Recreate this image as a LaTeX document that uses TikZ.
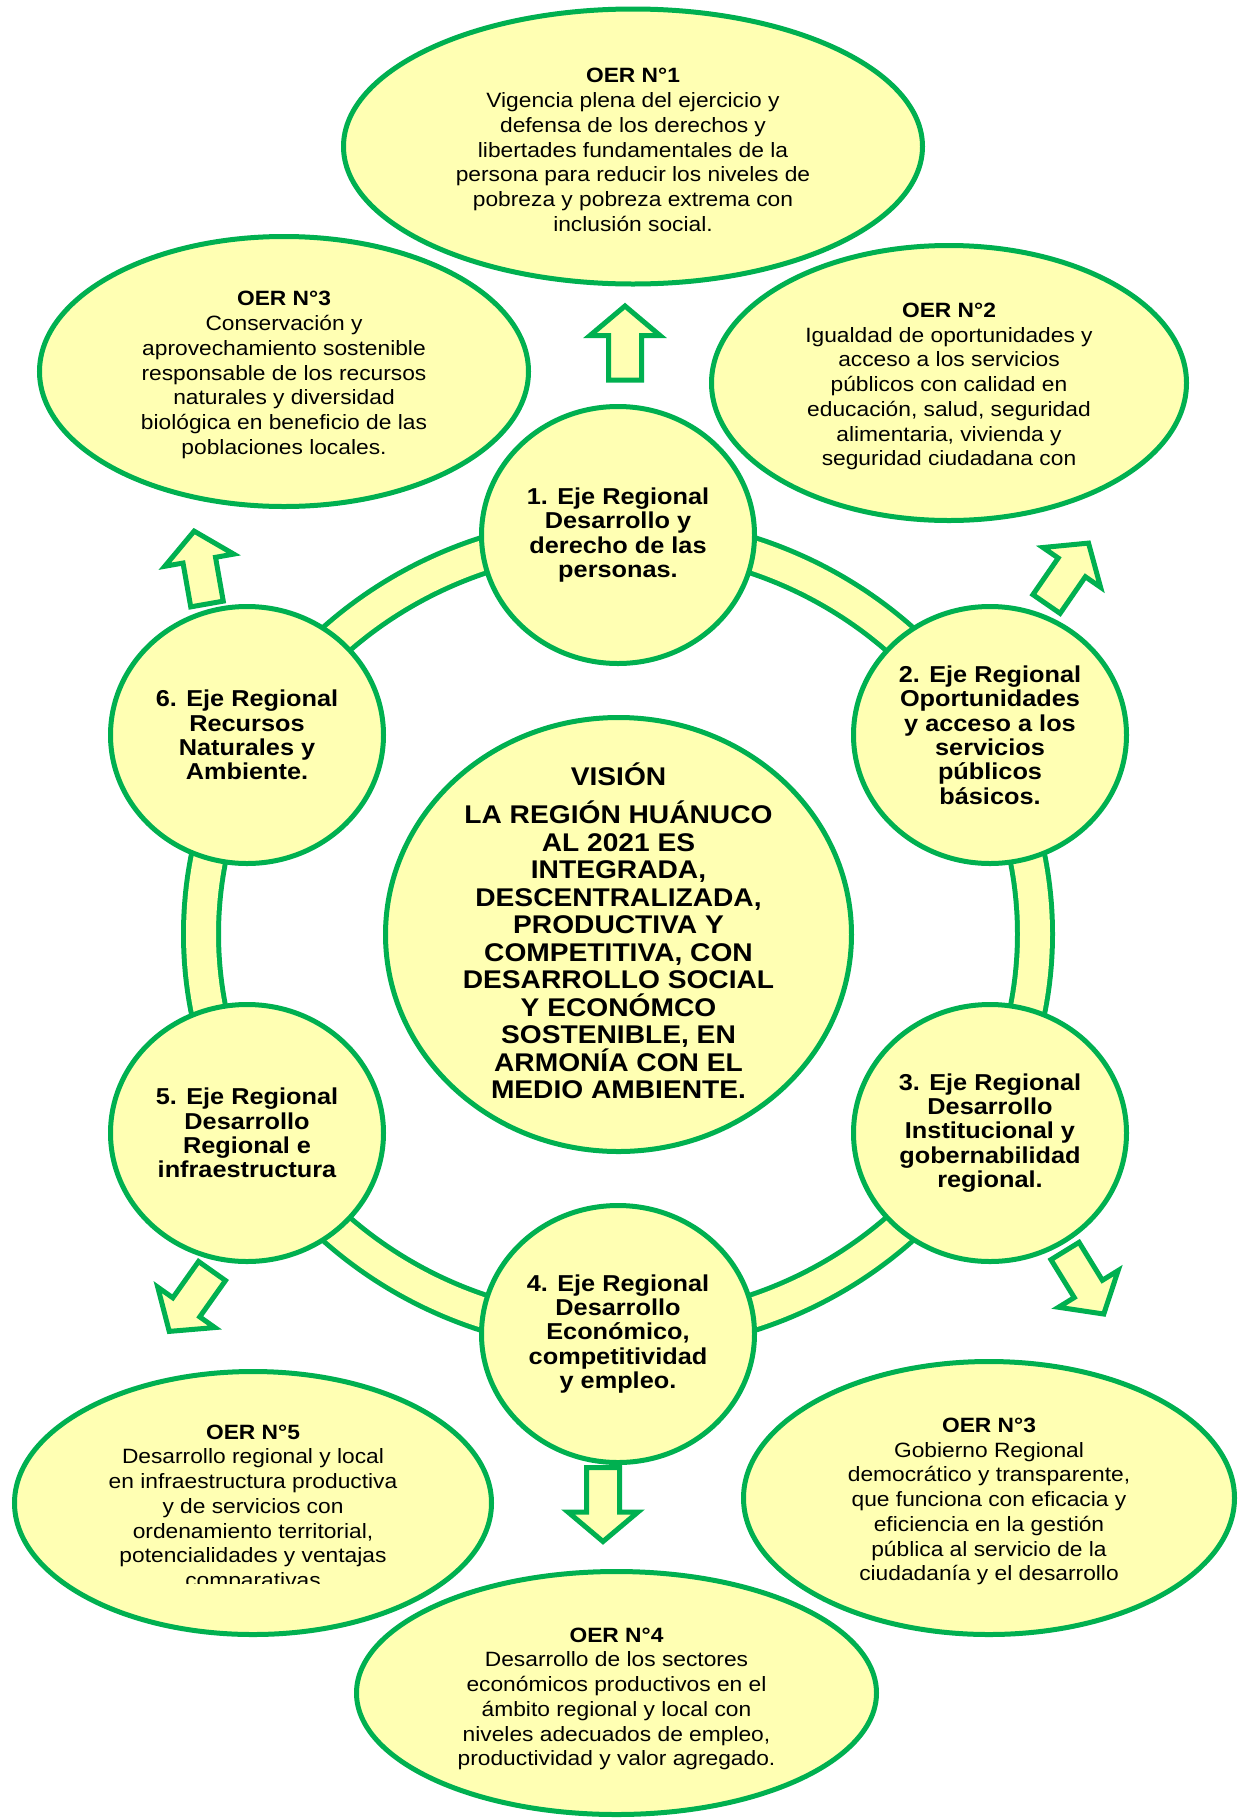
\documentclass[tikz,border=0pt]{standalone}
\usepackage{fontspec}
\setmainfont{Liberation Sans}[FakeStretch=1.1]
\usetikzlibrary{shapes.geometric}
\definecolor{vgreen}{HTML}{00B050}
\definecolor{vyellow}{HTML}{FFFFB3}
\tikzset{
  oval/.style={ellipse, draw=vgreen, fill=vyellow, line width=5pt, inner sep=0pt},
  oertext/.style={align=center, inner sep=0pt, text=black, yshift=-3.5pt, font={\fontsize{20.7}{24.75}\selectfont}},
  ejetext/.style={align=center, inner sep=0pt, text=black, font={\fontsize{23}{24.4}\selectfont\bfseries}},
  vistext/.style={align=center, inner sep=0pt, text=black, font={\fontsize{25.6}{27.5}\selectfont\bfseries}},
  blockarrow/.style={draw=vgreen, fill=vyellow, line width=5pt, line join=miter},
}
\newcommand\bArrow[3]{%
  \begin{scope}[shift={(#1)}, rotate=#2]
    \coordinate (#3) at (0,-74);
    \draw[blockarrow] (-16.5,0) -- (-16.5,-44.5) -- (-35,-44.5) -- (0,-74) -- (35,-44.5) -- (16.5,-44.5) -- (16.5,0) -- cycle;
  \end{scope}}
\begin{document}
\begin{tikzpicture}[x=1pt,y=-1pt]
\useasboundingbox (0,0) rectangle (1238,1818);

% ring
\draw[vgreen, line width=40pt] (618,934) ellipse [x radius=417pt, y radius=400pt];
\draw[vyellow, line width=30pt] (618,934) ellipse [x radius=417pt, y radius=400pt];

% block arrows
\bArrow{625,380}{0}{a1}
\bArrow{207,604}{10}{a6}
\bArrow{1046.5,604}{-34.6}{a2}
\bArrow{212,1271}{144.7}{a5}
\bArrow{1065,1251}{-148.4}{a3}
\bArrow{603,1467.5}{180}{a4}

% objective ellipses
\node[oval, minimum width=579pt, minimum height=275pt] (oer1) at (633,146.5) {};
\node[oertext] (oer1t) at (oer1) {\textbf{OER N°1}\\Vigencia plena del ejercicio y\\defensa de los derechos y\\libertades fundamentales de la\\persona para reducir los niveles de\\pobreza y pobreza extrema con\\inclusión social.};

\node[oval, minimum width=489pt, minimum height=270pt] (oer3a) at (284,371.5) {};
\node[oertext] (oer3at) at (oer3a) {\textbf{OER N°3}\\Conservación y\\aprovechamiento sostenible\\responsable de los recursos\\naturales y diversidad\\biológica en beneficio de las\\poblaciones locales.};

\node[oval, minimum width=475pt, minimum height=275pt] (oer2) at (949,383) {};
\node[oertext] (oer2t) at (oer2) {\textbf{OER N°2}\\Igualdad de oportunidades y\\acceso a los servicios\\públicos con calidad en\\educación, salud, seguridad\\alimentaria, vivienda y\\seguridad ciudadana con};

\node[oval, minimum width=477pt, minimum height=263pt] (oer5) at (253,1503) {};
\begin{scope}
  \clip (0,0) rectangle (1238,1583);
  \node[oertext, yshift=3.5pt, anchor=south] (oer5t) at (253,1592) {\textbf{OER N°5}\\Desarrollo regional y local\\en infraestructura productiva\\y de servicios con\\ordenamiento territorial,\\potencialidades y ventajas\\comparativas};
\end{scope}

\node[oval, minimum width=491pt, minimum height=273pt] (oer3b) at (989,1498) {};
\node[oertext] (oer3bt) at (oer3b) {\textbf{OER N°3}\\Gobierno Regional\\democrático y transparente,\\que funciona con eficacia y\\eficiencia en la gestión\\pública al servicio de la\\ciudadanía y el desarrollo};

\node[oval, minimum width=520pt, minimum height=243pt] (oer4) at (616.5,1693) {};
\node[oertext, yshift=-2.5pt] (oer4t) at (oer4) {\textbf{OER N°4}\\Desarrollo de los sectores\\económicos productivos en el\\ámbito regional y local con\\niveles adecuados de empleo,\\productividad y valor agregado.};

% axes
\node[oval, minimum width=273pt, minimum height=257pt] (e1) at (618,535) {};
\node[ejetext] (e1t) at (e1) {1. Eje Regional\\Desarrollo y\\derecho de las\\personas.};
\node[oval, minimum width=273pt, minimum height=257pt] (e2) at (990,735) {};
\node[ejetext] (e2t) at (e2) {2. Eje Regional\\Oportunidades\\y acceso a los\\servicios\\públicos\\básicos.};
\node[oval, minimum width=273pt, minimum height=257pt] (e3) at (990,1133) {};
\node[ejetext] (e3t) at (e3) {3. Eje Regional\\Desarrollo\\Institucional y\\gobernabilidad\\regional.};
\node[oval, minimum width=273pt, minimum height=257pt] (e4) at (618,1334) {};
\node[ejetext] (e4t) at (e4) {4. Eje Regional\\Desarrollo\\Económico,\\competitividad\\y empleo.};
\node[oval, minimum width=273pt, minimum height=257pt] (e5) at (247,1133) {};
\node[ejetext] (e5t) at (e5) {5. Eje Regional\\Desarrollo\\Regional e\\infraestructura};
\node[oval, minimum width=273pt, minimum height=257pt] (e6) at (247,735) {};
\node[ejetext] (e6t) at (e6) {6. Eje Regional\\Recursos\\Naturales y\\Ambiente.};

% vision
\node[oval, minimum width=466pt, minimum height=434pt] (vis) at (618.5,934.5) {};
\node[vistext] (vist) at (618.5,931) {VISIÓN\\[10.5pt]LA REGIÓN HUÁNUCO\\AL 2021 ES\\INTEGRADA,\\DESCENTRALIZADA,\\PRODUCTIVA Y\\COMPETITIVA, CON\\DESARROLLO SOCIAL\\Y ECONÓMCO\\SOSTENIBLE, EN\\ARMONÍA CON EL\\MEDIO AMBIENTE.};
\end{tikzpicture}
\end{document}
